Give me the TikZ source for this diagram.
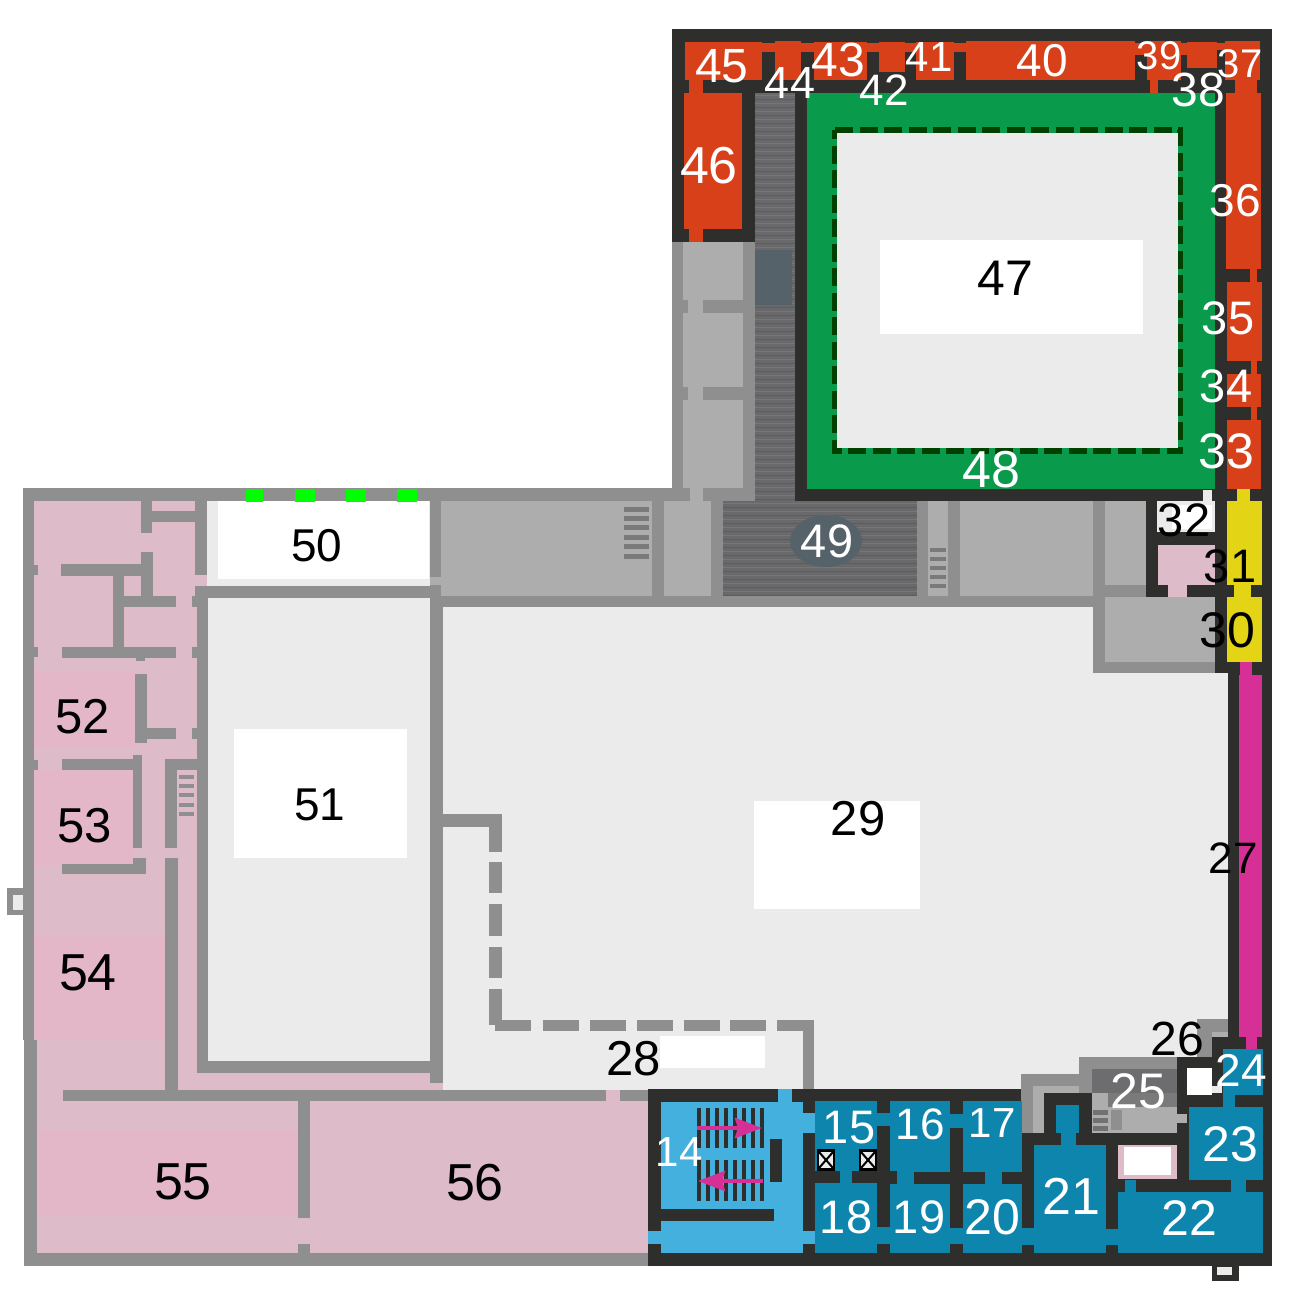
\documentclass[tikz,border=0pt]{standalone}
\usepackage{fontspec}
\setmainfont{Liberation Sans}
\usetikzlibrary{arrows.meta}

\definecolor{wallgrey}{HTML}{8F8F8F}
\definecolor{roomgrey}{HTML}{ADADAD}
\definecolor{floorlight}{HTML}{EBEBEB}
\definecolor{wallblack}{HTML}{2E2E2C}
\definecolor{pinkbase}{HTML}{DDBBC9}
\definecolor{pinkstrong}{HTML}{E3B7C8}
\definecolor{redroom}{HTML}{D8401A}
\definecolor{greenroom}{HTML}{0A9A4C}
\definecolor{bluedark}{HTML}{0D85AD}
\definecolor{bluelight}{HTML}{44B0DE}
\definecolor{magentaroom}{HTML}{D62F96}
\definecolor{yellowroom}{HTML}{E3D416}
\definecolor{stripgrey}{HTML}{69696C}
\definecolor{slategrey}{HTML}{56626A}

\tikzset{
    wall/.style={fill=wallgrey},
    room/.style={fill=roomgrey},
    black wall/.style={fill=wallblack},
    red room/.style={fill=redroom},
    blue room/.style={fill=bluedark},
    pale room/.style={fill=bluelight},
    stair arrow/.style={line width=4pt, magentaroom, -{Stealth[length=27pt,width=20pt,inset=3pt]}},
    number/.style={inner sep=0pt, font=\fontsize{#1}{#1}\selectfont},
    white number/.style={number=#1, text=white},
    black number/.style={number=#1, text=black}
}

\begin{document}
\begin{tikzpicture}[x=1pt,y=-1pt]
\useasboundingbox (0,0) rectangle (1310,1296);
\fill[white] (0,0) rectangle (1310,1296);

% West wing floor
\fill[pinkbase] (24,489) rectangle (650,1266);
\fill[pinkstrong] (34,672) rectangle (137,747);
\fill[pinkstrong] (34,770) rectangle (133,865);
\fill[pinkstrong] (34,935) rectangle (168,1040);
\fill[pinkstrong] (37,1130) rectangle (298,1215);
\fill[floorlight] (443,607) rectangle (1228,1090);

% Outer walls of the west wing
\fill[wall] (23,488) rectangle (34,1040);
\fill[wall] (24,1040) rectangle (37,1266);
\fill[wall] (24,1253) rectangle (650,1266);
\fill[wall] (23,488) rectangle (795,501);
\fill[wall] (7,888) rectangle (25,915);
\fill[floorlight] (13,895) rectangle (23,910);
\foreach \y in {565,647,760} {
    \fill[wall] (34,\y) rectangle (38,\y+10);
}
\foreach \y in {596,647,728} {
    \fill[wall] (192,\y) rectangle (197,\y+11);
}

% Inner walls of the west wing
\fill[wall] (141,501) rectangle (152,533);
\fill[wall] (152,511) rectangle (195,522);
\fill[wall] (141,552) rectangle (153,597);
\fill[wall] (61,564) rectangle (141,576);
\fill[wall] (113,576) rectangle (124,647);
\fill[wall] (124,596) rectangle (176,607);
\fill[wall] (62,647) rectangle (176,658);
\fill[wall] (136,658) rectangle (145,661);
\fill[wall] (135,674) rectangle (147,743);
\fill[wall] (147,728) rectangle (176,739);
\fill[wall] (62,759) rectangle (142,770);
\fill[wall] (133,755) rectangle (142,848);
\fill[wall] (133,858) rectangle (146,874);
\fill[wall] (62,864) rectangle (146,874);
\fill[wall] (165,759) rectangle (177,848);
\fill[wall] (165,858) rectangle (178,1090);
\fill[wall] (165,759) rectangle (197,770);
\foreach \y in {775,784,793,803,812} {
    \fill[wall] (179,\y) rectangle (194,\y+4);
}

% South wall of the west wing
\fill[wall] (63,1090) rectangle (606,1101);
\fill[wall] (620,1090) rectangle (650,1101);
\fill[wall] (298,1101) rectangle (310,1218);
\fill[wall] (298,1244) rectangle (310,1253);

% Halls 50 and 51
\fill[floorlight] (207,501) rectangle (430,586);
\fill[white] (218,501) rectangle (429,579);
\fill[wall] (195,501) rectangle (207,575);
\fill[wall] (195,586) rectangle (443,598);
\fill[wall] (197,586) rectangle (208,1073);
\fill[wall] (430,501) rectangle (443,1083);
\fill[floorlight] (208,598) rectangle (430,1061);
\fill[wall] (197,1061) rectangle (443,1073);
\fill[white] (234,729) rectangle (407,858);
\foreach \x/\w in {246/17,295/20,346/20,397/20} {
    \fill[green] (\x,489) rectangle (\x+\w,502);
}

% Partition in hall 29
\fill[wall] (443,814) rectangle (502,827);
\foreach \y/\h in {827/25,862/31,904/32,947/31,989/36} {
    \fill[wall] (489,\y) rectangle (502,\y+\h);
}
\foreach \x in {495,543,590,637,684,730} {
    \fill[wall] (\x,1020) rectangle (\x+36,1031);
}
\fill[wall] (777,1020) rectangle (814,1031);
\fill[wall] (803,1031) rectangle (814,1090);
\fill[white] (754,801) rectangle (920,909);
\fill[white] (660,1036) rectangle (765,1068);

% North side grey rooms
\fill[wall] (441,501) rectangle (1146,607);
\fill[wall] (1093,596) rectangle (1215,673);
\fill[wall] (672,242) rectangle (755,488);
\fill[room] (441,501) rectangle (652,596);
\fill[room] (664,501) rectangle (711,596);
\fill[room] (928,501) rectangle (948,596);
\fill[room] (960,501) rectangle (1093,596);
\fill[room] (1105,501) rectangle (1146,585);
\fill[room] (1105,597) rectangle (1215,662);
\fill[room] (683,242) rectangle (743,300);
\fill[room] (683,313) rectangle (743,387);
\fill[room] (683,400) rectangle (743,488);
\foreach \y in {300,387} {
    \fill[room] (688,\y) rectangle (703,\y+13);
}
\fill[room] (690,488) rectangle (703,501);
\fill[room] (430,577) rectangle (441,585);
\foreach \y in {507,516,525,535,544,554} {
    \fill[wallgrey!85!black] (624,\y) rectangle (649,\y+5);
}
\foreach \y in {548,557,566,575,584} {
    \fill[wallgrey!85!black] (930,\y) rectangle (946,\y+4);
}

% Black walls of the north and east wings
\fill[black wall] (672,29) rectangle (1272,242);
\fill[black wall] (795,242) rectangle (1272,501);
\fill[black wall] (1146,501) rectangle (1272,597);
\fill[black wall] (1215,597) rectangle (1272,673);
\fill[black wall] (1228,673) rectangle (1272,1100);
\fill[black wall] (648,1089) rectangle (1272,1266);
\fill[black wall] (1212,1266) rectangle (1239,1281);
\fill[floorlight] (1217,1267) rectangle (1232,1275);

% Dark strip and hall 49
\fill[stripgrey] (755,93) rectangle (795,501);
\fill[stripgrey] (723,501) rectangle (917,596);
\foreach \y in {95,103,...,500} {
    \draw[line width=1pt, green!30!stripgrey] (755,\y) -- (795,\y);
}
\foreach \y in {99,107,...,500} {
    \draw[line width=1pt, violet!25!stripgrey] (755,\y) -- (795,\y);
}
\foreach \y in {503,511,...,596} {
    \draw[line width=1pt, green!30!stripgrey] (723,\y) -- (917,\y);
}
\foreach \y in {507,515,...,596} {
    \draw[line width=1pt, violet!25!stripgrey] (723,\y) -- (917,\y);
}
\fill[slategrey] (755,250) rectangle (792,305);
\fill[slategrey] (826,541) ellipse (36 and 26);

% Red rooms on the top
\fill[red room] (685,42) rectangle (762,80);
\fill[red room] (775,41) rectangle (801,80);
\fill[red room] (814,42) rectangle (867,80);
\fill[red room] (879,42) rectangle (905,72);
\fill[red room] (916,42) rectangle (954,80);
\fill[red room] (966,41) rectangle (1135,80);
\fill[red room] (1147,41) rectangle (1181,80);
\fill[red room] (1187,42) rectangle (1217,68);
\fill[red room] (1225,41) rectangle (1260,80);
\foreach \x/\w/\h in {762/13/9,801/13/9,867/12/9,905/11/9,954/12/9,1135/12/12,1181/6/12,1217/8/7} {
    \fill[red room] (\x,43) rectangle (\x+\w,43+\h);
}
\fill[red room] (689,80) rectangle (703,93);
\fill[red room] (1150,80) rectangle (1158,93);
\fill[red room] (1235,80) rectangle (1257,93);

% Red rooms on the sides
\fill[red room] (684,93) rectangle (742,229);
\fill[red room] (689,229) rectangle (703,242);
\fill[red room] (1226,93) rectangle (1261,269);
\fill[red room] (1250,269) rectangle (1257,282);
\fill[red room] (1227,282) rectangle (1262,361);
\fill[red room] (1251,361) rectangle (1257,374);
\fill[red room] (1227,374) rectangle (1261,407);
\fill[red room] (1251,407) rectangle (1257,420);
\fill[red room] (1227,420) rectangle (1261,489);

% Green gallery and courtyard 47
\fill[greenroom] (807,93) rectangle (1215,489);
\draw[line width=6pt, green!25!black, dash pattern=on 18pt off 6.5pt]
    (835,130) -- (1180,130) -- (1180,451) -- (835,451) -- cycle;
\fill[floorlight] (837,133) rectangle (1178,448);
\fill[white] (880,240) rectangle (1143,334);

% Rooms 30 to 32 and magenta corridor
\fill[yellowroom] (1237,489) rectangle (1250,501);
\fill[yellowroom] (1227,501) rectangle (1262,585);
\fill[yellowroom] (1234,585) rectangle (1251,597);
\fill[yellowroom] (1227,597) rectangle (1262,662);
\fill[magentaroom] (1240,662) rectangle (1252,675);
\fill[magentaroom] (1239,675) rectangle (1262,1037);
\fill[magentaroom] (1246,1037) rectangle (1257,1049);
\fill[floorlight] (1157,501) rectangle (1215,532);
\fill[white] (1172,505) rectangle (1212,529);
\fill[floorlight] (1203,490) rectangle (1212,501);
\fill[pinkbase] (1158,545) rectangle (1215,585);
\fill[pinkbase] (1168,585) rectangle (1187,597);

% South side grey rooms
\fill[wall] (1197,1019) rectangle (1228,1032);
\fill[wall] (1197,1032) rectangle (1212,1057);
\fill[room] (1212,1032) rectangle (1228,1037);
\fill[black wall] (1212,1037) rectangle (1241,1057);
\fill[black wall] (1177,1057) rectangle (1223,1107);
\fill[white] (1187,1068) rectangle (1212,1095);
\fill[floorlight] (1212,1086) rectangle (1222,1093);
\fill[wall] (1079,1057) rectangle (1177,1093);
\fill[wall] (1021,1074) rectangle (1092,1133);
\fill[room] (1033,1086) rectangle (1079,1093);
\fill[room] (1033,1086) rectangle (1044,1133);
\fill[room] (1092,1069) rectangle (1177,1133);
\fill[stripgrey!90!wallgrey] (1092,1069) rectangle (1177,1093);
\fill[wallgrey!85!black] (1108,1093) rectangle (1177,1107);
\foreach \y in {1110,1118,1126} {
    \fill[wallgrey!80!black] (1093,\y) rectangle (1108,\y+5);
}
\fill[wall] (1111,1110) rectangle (1122,1130);
\fill[room] (1177,1114) rectangle (1187,1123);
\fill[black wall] (1044,1093) rectangle (1092,1134);

% Blue rooms 15 to 24
\fill[blue room] (815,1101) rectangle (877,1171);
\fill[blue room] (890,1101) rectangle (950,1172);
\fill[blue room] (963,1101) rectangle (1022,1172);
\fill[blue room] (815,1183) rectangle (877,1253);
\fill[blue room] (890,1184) rectangle (950,1253);
\fill[blue room] (963,1184) rectangle (1022,1253);
\fill[blue room] (840,1171) rectangle (852,1183);
\fill[blue room] (897,1172) rectangle (914,1184);
\fill[blue room] (985,1172) rectangle (1002,1184);
\fill[blue room] (877,1113) rectangle (890,1126);
\fill[blue room] (950,1114) rectangle (963,1128);
\fill[blue room] (877,1227) rectangle (890,1244);
\fill[blue room] (950,1228) rectangle (963,1244);
\fill[blue room] (1034,1145) rectangle (1106,1253);
\fill[blue room] (1022,1228) rectangle (1034,1245);
\fill[blue room] (1106,1229) rectangle (1118,1245);
\fill[blue room] (1056,1105) rectangle (1079,1133);
\fill[blue room] (1061,1133) rectangle (1076,1145);
\fill[blue room] (1118,1192) rectangle (1263,1253);
\fill[blue room] (1125,1180) rectangle (1136,1192);
\fill[blue room] (1231,1180) rectangle (1246,1192);
\fill[blue room] (1189,1107) rectangle (1263,1180);
\fill[blue room] (1223,1095) rectangle (1235,1107);
\fill[blue room] (1223,1049) rectangle (1263,1095);
\fill[black wall] (814,1171) rectangle (840,1183);
\fill[black wall] (852,1171) rectangle (897,1183);
\fill[black wall] (877,1126) rectangle (890,1227);
\fill[black wall] (950,1128) rectangle (963,1228);
\fill[black wall] (914,1172) rectangle (985,1184);
\fill[black wall] (1002,1172) rectangle (1022,1184);

% Pale room in the south
\fill[pinkbase] (1118,1145) rectangle (1177,1179);
\fill[white] (1124,1147) rectangle (1171,1175);

% Stair hall 14
\fill[pale room] (661,1102) rectangle (803,1253);
\fill[pale room] (803,1113) rectangle (815,1133);
\fill[pale room] (803,1231) rectangle (815,1244);
\fill[pale room] (648,1231) rectangle (661,1244);
\fill[pale room] (778,1089) rectangle (792,1102);
\fill[black wall] (661,1209) rectangle (774,1221);
\fill[black wall] (770,1139) rectangle (782,1182);
\foreach \i in {0,...,7} {
    \fill[black wall] (696.5+9*\i,1108) rectangle (700.5+9*\i,1148);
    \fill[black wall] (696.5+9*\i,1160) rectangle (700.5+9*\i,1201);
}
\draw[stair arrow] (697,1128) -- (762,1128);
\draw[stair arrow] (763,1181) -- (698,1181);

% Lifts
\foreach \x in {817,859} {
    \fill[black] (\x,1149) rectangle (\x+18,1171);
    \fill[floorlight] (\x+2,1152) rectangle (\x+16,1168);
    \draw[line width=2pt] (\x+2,1152) -- (\x+16,1168);
    \draw[line width=2pt] (\x+16,1152) -- (\x+2,1168);
}

% White numbers
\foreach \n/\x/\y/\s in {45/722/66/48,44/790/83/45,43/838/60/48,42/884/90/44,41/929/57/42,
    40/1042/61/46,39/1159/56/40,38/1198/90/48,37/1240/64/40,46/709/166/52,36/1235/201/46,
    35/1228/318/47,34/1226/386/47,33/1226/451/50,48/991/470/52,49/827/541/47,25/1138/1091/50,
    24/1241/1070/46,23/1230/1144/50,22/1189/1218/50,21/1071/1196/52,20/992/1217/50,
    19/919/1217/47,18/846/1217/47,17/992/1123/42,16/920/1124/44,15/849/1128/47,14/679/1152/42} {
    \node[white number=\s] (room\n) at (\x,\y) {\n};
}

% Black numbers
\foreach \n/\x/\y/\s in {47/1005/278/50,50/317/546/46,51/320/805/46,52/83/717/49,53/85/826/49,
    54/88/973/52,55/183/1182/52,56/475/1183/52,29/858/819/49,28/634/1059/49,27/1233/858/44,
    26/1177/1039/48,30/1227/630/50,31/1230/566/47,32/1184/520/47} {
    \node[black number=\s] (room\n) at (\x,\y) {\n};
}

\end{tikzpicture}
\end{document}
